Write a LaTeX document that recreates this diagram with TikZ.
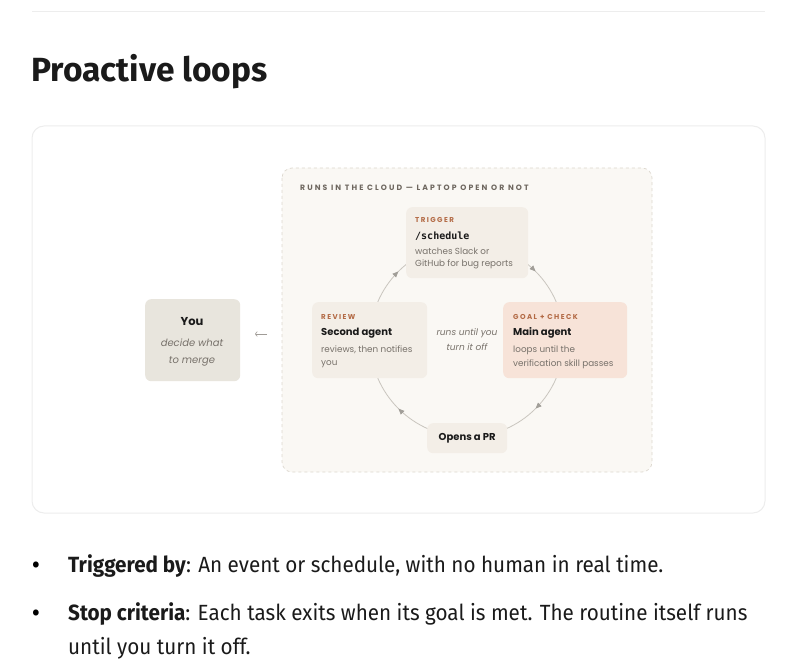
\documentclass[tikz,border=0pt]{standalone}
\usepackage{fontspec}
\setmainfont{Poppins}
\newfontfamily\titlefont{Fira Sans}
\newfontfamily\pagefont[FakeStretch=0.94]{Fira Sans}
\newfontfamily\tagfont[LetterSpace=20]{Poppins}
\newfontfamily\cloudfont[LetterSpace=27]{Poppins}
\newfontfamily\codefont{DejaVu Sans Mono}
\usetikzlibrary{arrows.meta}
\usetikzlibrary{
    decorations.markings % Arrow heads half way along the loop arcs.
}

\definecolor{rulegrey}{HTML}{EDEDED}
\definecolor{cloudfill}{HTML}{FAF8F4}
\definecolor{cloudline}{HTML}{DDD8CF}
\definecolor{stagefill}{HTML}{F3EEE7}
\definecolor{goalfill}{HTML}{F7E3D8}
\definecolor{youfill}{HTML}{E8E5DD}
\definecolor{tagbrown}{HTML}{B36A45}
\definecolor{headgrey}{HTML}{6E675F}
\definecolor{inkblack}{HTML}{1A1A1A}
\definecolor{notegrey}{HTML}{77716A}
\definecolor{loopgrey}{HTML}{C9C5BE}

\begin{document}
\begin{tikzpicture}[x=1pt, y=-1pt, >=Latex,
    stage/.style={fill=stagefill, rounded corners=6pt, anchor=north west, inner sep=0pt},
    tag/.style={anchor=west, inner sep=0pt, text=tagbrown,
        font=\tagfont\bfseries\fontsize{7.1}{8}\selectfont},
    head/.style={anchor=west, inner sep=0pt, text=inkblack,
        font=\bfseries\fontsize{10}{12}\selectfont},
    note/.style={anchor=west, inner sep=0pt, text=notegrey,
        font=\fontsize{8.8}{10}\selectfont},
    aside/.style={inner sep=0pt, text=notegrey,
        font=\itshape\fontsize{9}{10}\selectfont},
    bodytext/.style={anchor=base west, inner sep=0pt, text=inkblack,
        font=\pagefont\fontsize{22}{24}\selectfont},
    loopline/.style={draw=loopgrey, line width=0.8pt, postaction={decorate},
        decoration={markings, mark=at position 0.5 with
            {\arrow[loopgrey!80!black]{Triangle[length=6pt, width=5pt]}}}}
]

        % Page size and the thin rule on top.
        \useasboundingbox (0,0) rectangle (800,671);
        \draw[rulegrey, line width=1pt] (32,12) -- (765,12);

        % Heading.
        \node[anchor=base west, inner sep=0pt, text=inkblack,
              font=\titlefont\bfseries\fontsize{33.5}{36}\selectfont]
              (title) at (31,82) {Proactive loops};

        % The white card and the dashed cloud area.
        \draw[rulegrey, fill=white, line width=1pt, rounded corners=12pt]
            (32,126) rectangle (765,513);
        \draw[cloudline, fill=cloudfill, dashed, line width=0.7pt, rounded corners=10pt]
            (282,168) rectangle (652,472);
        \node[anchor=west, inner sep=0pt, text=headgrey,
              font=\cloudfont\bfseries\fontsize{7.7}{8}\selectfont]
              (cloudhead) at (300,188) {RUNS IN THE CLOUD — LAPTOP OPEN OR NOT};

        % The loop, clockwise, under the stage boxes.
        \coordinate (loopc) at (467,340);
        \foreach \a in {-90, 0, 90, 180}
            \draw[loopline] ([shift={(\a:97)}]loopc) arc (\a:\a+90:97);

        % Trigger.
        \node[stage, minimum width=122pt, minimum height=71pt] (trig) at (406,207) {};
        \node[tag] (trigtag) at (415,220) {TRIGGER};
        \node[anchor=west, inner sep=0pt, text=inkblack,
              font=\codefont\bfseries\fontsize{10}{12}\selectfont]
              (trighead) at (415,236) {/schedule};
        \node[note] (trignote1) at (415,251) {watches Slack or};
        \node[note] (trignote2) at (415,264) {GitHub for bug reports};

        % Goal + check.
        \node[stage, fill=goalfill, minimum width=124pt, minimum height=76pt] (goal) at (503,302) {};
        \node[tag] (goaltag) at (513,317) {GOAL + CHECK};
        \node[head] (goalhead) at (513,333) {Main agent};
        \node[note] (goalnote1) at (513,350) {loops until the};
        \node[note] (goalnote2) at (513,364) {verification skill passes};

        % Opens a PR.
        \node[stage, minimum width=80pt, minimum height=30pt] (pr) at (427,423) {};
        \node[inner sep=0pt, text=inkblack, font=\bfseries\fontsize{10}{12}\selectfont]
              (prtext) at (pr.center) {Opens a PR};

        % Review.
        \node[stage, minimum width=115pt, minimum height=76pt] (review) at (312,302) {};
        \node[tag] (revtag) at (321,317) {REVIEW};
        \node[head] (revhead) at (321,333) {Second agent};
        \node[note] (revnote1) at (321,350) {reviews, then notifies};
        \node[note] (revnote2) at (321,364) {you};

        % Middle of the loop.
        \node[aside] (mid1) at (467,333) {runs until you};
        \node[aside] (mid2) at (467,347) {turn it off};

        % You.
        \node[stage, fill=youfill, minimum width=95pt, minimum height=82pt] (you) at (145,299) {};
        \node[inner sep=0pt, text=inkblack, font=\bfseries\fontsize{11.5}{13}\selectfont]
              (youhead) at (192,322) {You};
        \node[aside, font=\itshape\fontsize{10}{11}\selectfont] (younote1) at (192,343) {decide what};
        \node[aside, font=\itshape\fontsize{10}{11}\selectfont] (younote2) at (192,361) {to merge};

        \coordinate (backfrom) at (267,334);
        \coordinate (backto) at (255,334);
        \draw[notegrey!70, line width=0.6pt, -{To[length=2.5pt]}] (backfrom) -- (backto);

        % Bullet list.
        \node[anchor=base, inner sep=0pt, font=\pagefont\bfseries\fontsize{22}{24}\selectfont]
              (dot1) at (36,572) {•};
        \node[bodytext] (item1) at (68,572)
            {\textbf{Triggered by}: An event or schedule, with no human in real time.};
        \node[anchor=base, inner sep=0pt, font=\pagefont\bfseries\fontsize{22}{24}\selectfont]
              (dot2) at (36,620) {•};
        \node[bodytext] (item2) at (68,620)
            {\textbf{Stop criteria}: Each task exits when its goal is met. The routine itself runs};
        \node[bodytext] (item2b) at (68,654) {until you turn it off.};

\end{tikzpicture}
\end{document}
